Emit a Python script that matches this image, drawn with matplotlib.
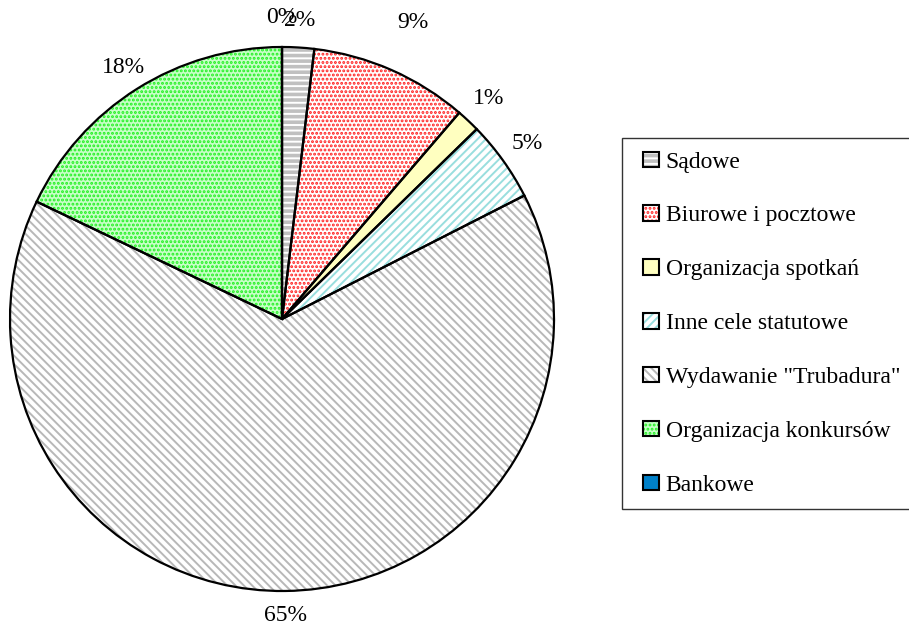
import numpy as np
import matplotlib
matplotlib.use("Agg")
import matplotlib.pyplot as plt
from matplotlib.patches import Rectangle
from matplotlib.legend_handler import HandlerBase

categories = ["Sądowe", "Biurowe i pocztowe", "Organizacja spotkań",
              "Inne cele statutowe", 'Wydawanie "Trubadura"',
              "Organizacja konkursów", "Bankowe"]
shares = [1.9, 9.4, 1.4, 4.8, 64.6, 17.9, 0.0]

# fill, hatch, hatch colour for each slice
faces = ["#c0c0c0", "white", "#ffffc0", "white", "white", "#c8ffc8", "#0080c8"]
hatches = ["---", "....", None, "////", "\\\\\\\\", "....", None]
hatch_cols = ["white", "#ff2020", "#ffffc0", "#99dede", "#b8b8b8", "#20f020", "#0080c8"]
# how far out each percent label sits (in pie radii)
label_r = [1.10, 1.19, 1.11, 1.11, 1.09, 1.095, 1.11]

plt.rcParams["font.family"] = ["Liberation Serif", "DejaVu Serif"]
plt.rcParams["hatch.linewidth"] = 1.4
FS = 17

fig = plt.figure(figsize=(9.09, 6.26), dpi=100)
W, H = 909, 626
cx, cy, R = 282, 319, 272
ax = fig.add_axes([(cx - R) / W, (H - cy - R) / H, 2 * R / W, 2 * R / H])
ax.axis("off")

# hatched fill first, then black outlines on top
wedges, _ = ax.pie(shares, startangle=90, counterclock=False, radius=1,
                   colors=faces, wedgeprops=dict(linewidth=0))
for w, h, hc in zip(wedges, hatches, hatch_cols):
    w.set_edgecolor(hc)
    if h:
        w.set_hatch(h)
ax.pie(shares, startangle=90, counterclock=False, radius=1,
       wedgeprops=dict(fill=False, edgecolor="black", linewidth=1.6))
ax.set_xlim(-1, 1)
ax.set_ylim(-1, 1)
ax.set_aspect("equal")

for w, v, r in zip(wedges, shares, label_r):
    ang = np.deg2rad((w.theta1 + w.theta2) / 2)
    ax.text(r * np.cos(ang), r * np.sin(ang), f"{round(v)}%",
            ha="center", va="center", fontsize=FS, clip_on=False)


class SquareHandler(HandlerBase):
    # small square swatch pushed to the right of the handle box
    def create_artists(self, legend, orig_handle, xdescent, ydescent,
                       width, height, fontsize, trans):
        face, hatch, hc = orig_handle
        s = 11
        x0 = -xdescent + width - s
        y0 = -ydescent + (height - s) / 2
        fill = Rectangle((x0, y0), s, s, facecolor=face, edgecolor=hc,
                         hatch=hatch, linewidth=0, transform=trans)
        edge = Rectangle((x0, y0), s, s, fill=False, edgecolor="black",
                         linewidth=1.5, transform=trans)
        return [fill, edge]


handles = [tuple(t) for t in zip(faces, hatches, hatch_cols)]
leg = fig.legend(handles, categories, handler_map={tuple: SquareHandler()},
                 loc="upper left", bbox_to_anchor=(622 / W, 1 - 138 / H),
                 fontsize=FS, frameon=True, fancybox=False, borderaxespad=0,
                 handlelength=1.0, handleheight=0.7, handletextpad=0.3,
                 labelspacing=1.37, borderpad=0.55)
leg.get_frame().set_edgecolor("black")
leg.get_frame().set_linewidth(1.0)

fig.savefig("out.png", dpi=100)
